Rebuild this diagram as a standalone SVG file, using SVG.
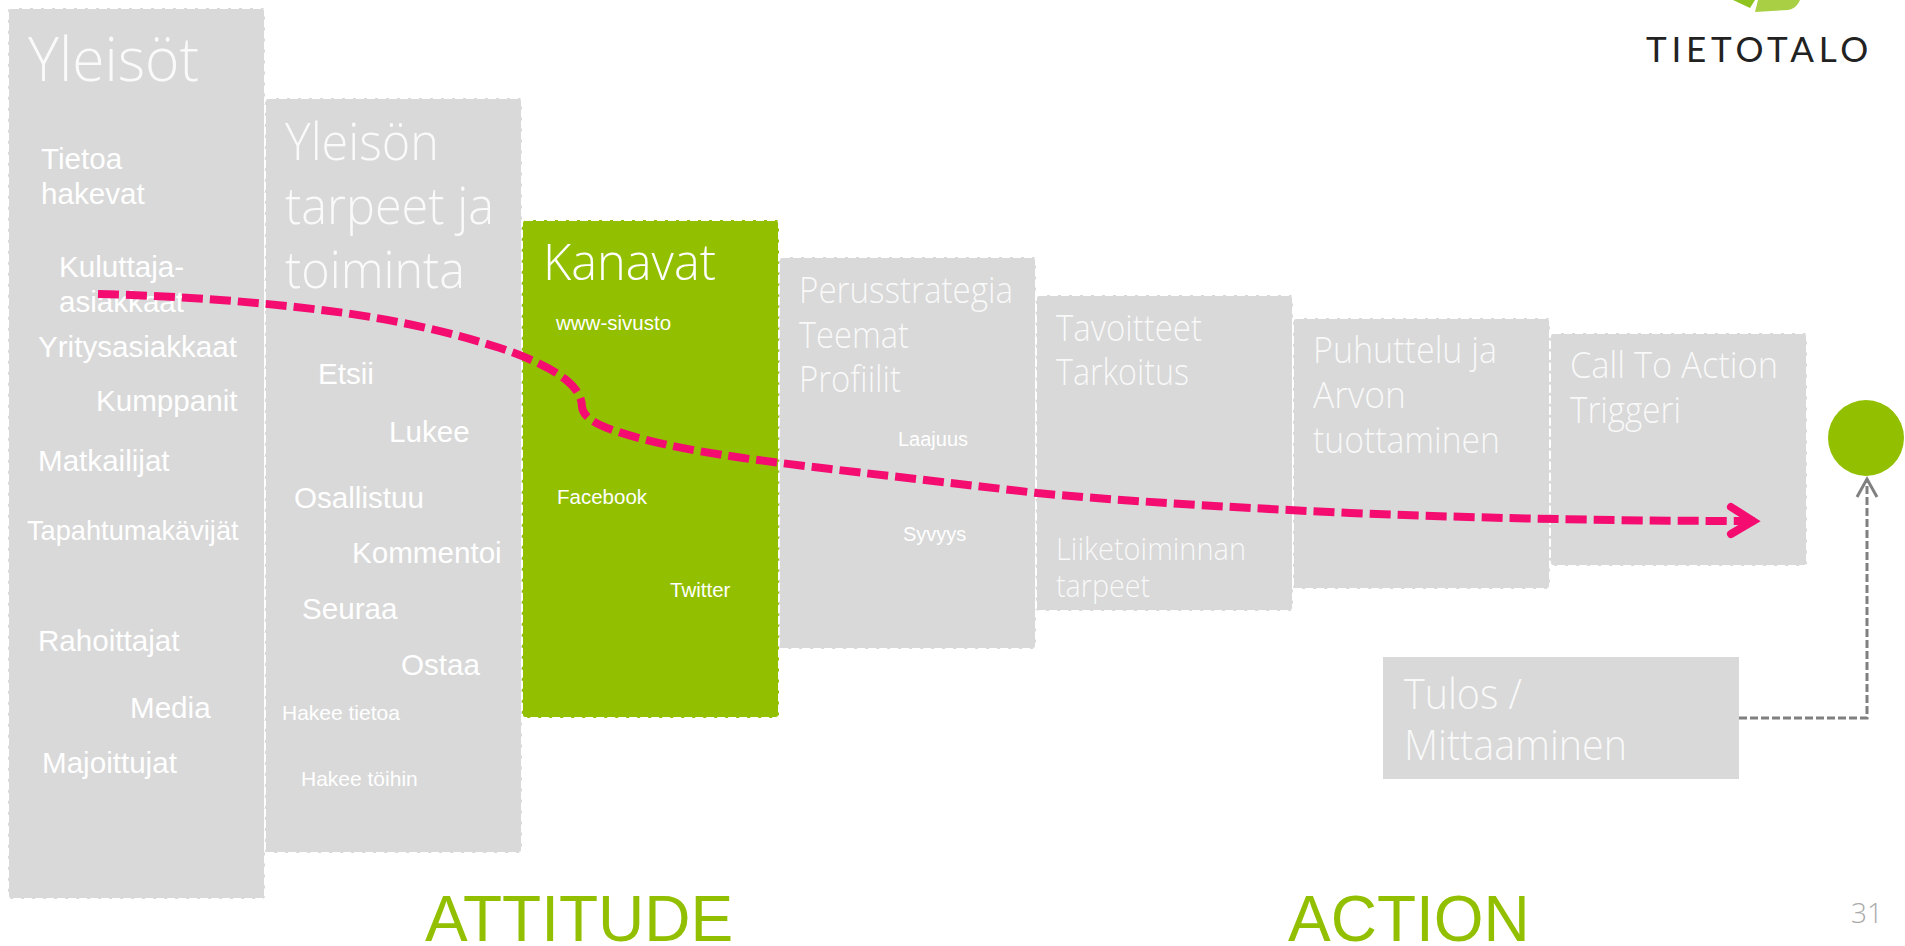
<svg xmlns="http://www.w3.org/2000/svg" width="1905" height="946" viewBox="0 0 1905 946">
<defs>
<marker id="pinkhead" markerUnits="userSpaceOnUse" markerWidth="40" markerHeight="40" refX="30" refY="20" orient="auto" overflow="visible"><path d="M6 6 L28 20 L6 33" fill="none" stroke="#f50c71" stroke-width="8" stroke-linecap="round" stroke-linejoin="miter"/></marker>
<marker id="greyhead" markerUnits="userSpaceOnUse" markerWidth="30" markerHeight="30" refX="24" refY="15" orient="auto" overflow="visible"><path d="M6 5 L24 15 L6 25" fill="none" stroke="#808080" stroke-width="3"/></marker>
</defs>
<style>
.box{fill:#d9d9d9;stroke:#fff;stroke-width:2;stroke-dasharray:8 3}
.green{fill:#92c000}
.h{font-family:"Open Sans","Noto Sans",sans-serif;font-weight:300;fill:#fff}
.f{fill-opacity:.85}
.s{font-family:"Liberation Sans",Arial,sans-serif;fill:#fff}
.big{font-family:"Liberation Sans",Arial,sans-serif;fill:#92c000;font-size:64px}
.c1{fill:none;stroke:#f50c71;stroke-width:8;stroke-dasharray:21 7}
.c2{fill:none;stroke:#808080;stroke-width:3;stroke-dasharray:8 3}
</style>
<rect width="1905" height="946" fill="#fff"/>
<g id="logo">
<path d="M1733 0 L1750 8 L1755 0Z" fill="#8fc31f"/>
<path d="M1755 12 L1758 0 L1800 0 C1798 5 1794 9 1788 10Z" fill="#a9d045"/>
<text x="1646" y="62" font-family="Lato,'Open Sans',sans-serif" font-size="35" letter-spacing="4.8" fill="#222">TIETOTALO</text>
</g>
<g id="node-yleisot">
<rect class="box" x="8" y="8" width="257" height="891" rx="3"/>
<text class="h f" x="28" y="81" font-size="60" textLength="171" lengthAdjust="spacingAndGlyphs">Yleisöt</text>
<g class="s" font-size="29.6">
<text x="41" y="169">Tietoa</text><text x="41" y="204">hakevat</text>
<text x="59" y="277">Kuluttaja-</text><text x="59" y="312">asiakkaat</text>
<text x="38" y="357">Yritysasiakkaat</text>
<text x="96" y="411">Kumppanit</text>
<text x="38" y="471">Matkailijat</text>
<text x="27" y="540" font-size="27.2">Tapahtumakävijät</text>
<text x="38" y="651">Rahoittajat</text>
<text x="130" y="718">Media</text>
<text x="42" y="773">Majoittujat</text>
</g>
</g>
<g id="node-tarpeet">
<rect class="box" x="265" y="98" width="257" height="755" rx="3"/>
<g class="h f" font-size="52">
<text x="285" y="160" textLength="154" lengthAdjust="spacingAndGlyphs">Yleisön</text>
<text x="285" y="224" textLength="209" lengthAdjust="spacingAndGlyphs">tarpeet ja</text>
<text x="285" y="288" textLength="180" lengthAdjust="spacingAndGlyphs">toiminta</text></g>
<g class="s" font-size="29.6">
<text x="318" y="384">Etsii</text>
<text x="389" y="442">Lukee</text>
<text x="294" y="508">Osallistuu</text>
<text x="352" y="563">Kommentoi</text>
<text x="302" y="619">Seuraa</text>
<text x="401" y="675">Ostaa</text>
<text x="282" y="720" font-size="21">Hakee tietoa</text>
<text x="301" y="786" font-size="21">Hakee töihin</text>
</g>
</g>
<g id="node-kanavat">
<rect class="box green" x="522" y="220" width="257" height="498" rx="3"/>
<text class="h" x="543" y="280" font-size="50" textLength="173" lengthAdjust="spacingAndGlyphs">Kanavat</text>
<g class="s" font-size="20.5">
<text x="556" y="330">www-sivusto</text>
<text x="557" y="504">Facebook</text>
<text x="670" y="597">Twitter</text>
</g>
</g>
<g id="node-perusstrategia">
<rect class="box" x="779" y="257" width="257" height="392" rx="3"/>
<g class="h f" font-size="36">
<text x="799" y="303" textLength="214" lengthAdjust="spacingAndGlyphs">Perusstrategia</text>
<text x="799" y="348" textLength="110" lengthAdjust="spacingAndGlyphs">Teemat</text>
<text x="799" y="392" textLength="102" lengthAdjust="spacingAndGlyphs">Profiilit</text></g>
<g class="s" font-size="20"><text x="898" y="446">Laajuus</text><text x="903" y="541">Syvyys</text></g>
</g>
<g id="node-tavoitteet">
<rect class="box" x="1036" y="295" width="257" height="316" rx="3"/>
<g class="h f" font-size="36">
<text x="1056" y="341" textLength="146" lengthAdjust="spacingAndGlyphs">Tavoitteet</text>
<text x="1056" y="385" textLength="133" lengthAdjust="spacingAndGlyphs">Tarkoitus</text></g>
<g class="h f" font-size="31">
<text x="1056" y="560" textLength="190" lengthAdjust="spacingAndGlyphs">Liiketoiminnan</text>
<text x="1056" y="597" textLength="94" lengthAdjust="spacingAndGlyphs">tarpeet</text></g>
</g>
<g id="node-puhuttelu">
<rect class="box" x="1293" y="318" width="257" height="271" rx="3"/>
<g class="h f" font-size="36">
<text x="1313" y="363" textLength="184" lengthAdjust="spacingAndGlyphs">Puhuttelu ja</text>
<text x="1313" y="408" textLength="93" lengthAdjust="spacingAndGlyphs">Arvon</text>
<text x="1313" y="453" textLength="187" lengthAdjust="spacingAndGlyphs">tuottaminen</text></g>
</g>
<g id="node-cta">
<rect class="box" x="1550" y="333" width="257" height="233" rx="3"/>
<g class="h f" font-size="36">
<text x="1570" y="378" textLength="208" lengthAdjust="spacingAndGlyphs">Call To Action</text>
<text x="1570" y="423" textLength="111" lengthAdjust="spacingAndGlyphs">Triggeri</text></g>
</g>
<g id="node-tulos">
<rect x="1383" y="657" width="356" height="122" fill="#d9d9d9"/>
<g class="h f" font-size="43">
<text x="1404" y="709" textLength="118" lengthAdjust="spacingAndGlyphs">Tulos /</text>
<text x="1404" y="760" textLength="223" lengthAdjust="spacingAndGlyphs">Mittaaminen</text></g>
</g>
<g id="node-target"><circle cx="1866" cy="438" r="38" fill="#92c000"/></g>
<g id="connectors">
<path class="c1" marker-end="url(#pinkhead)" d="M98 294 C180 296 264 302 345 313 C400 321 450 332 500 348 C530 358 552 369 565 379 C575 387 582 396 582 407 C583 415 590 421 607 428 C640 440 680 449 743 458 C800 466 900 477 1037 493 C1100 499 1200 506 1350 513 C1500 519 1640 521 1755 521"/>
<path class="c2" marker-end="url(#greyhead)" d="M1739 718 H1867 V479"/>
</g>
<g id="labels">
<text class="big" x="425" y="941">ATTITUDE</text>
<text class="big" x="1288" y="941">ACTION</text>
<text class="h" x="1851" y="923" font-size="28" style="fill:#aaa">31</text>
</g>
</svg>
